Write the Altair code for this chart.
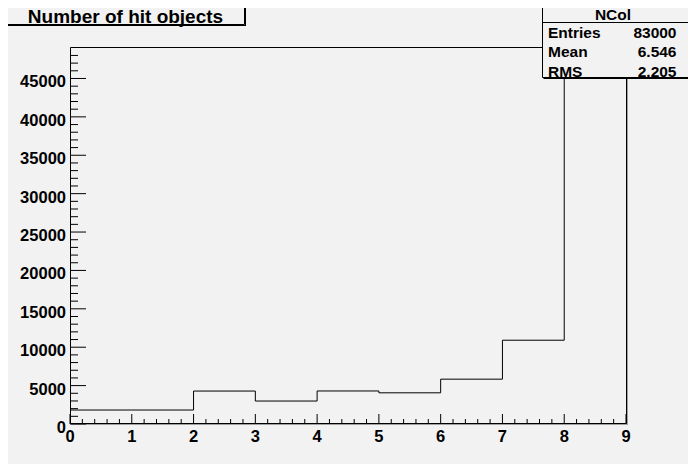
import altair as alt
import pandas as pd

# ---- data ----
bin_edges = [0, 1, 2, 3, 4, 5, 6, 7, 8, 9]
counts = [1820, 1820, 4290, 2990, 4300, 4060, 5840, 10910, 46800]
y_major = [0, 5000, 10000, 15000, 20000, 25000, 30000, 35000, 40000, 45000]
y_minor = [v for v in range(1000, 49000, 1000) if v % 5000 != 0]
x_major = [0, 1, 2, 3, 4, 5, 6, 7, 8, 9]
x_minor = [round(i * 0.2, 1) for i in range(1, 45) if i % 5 != 0]

title_text = "Number of hit objects"
stats_name = "NCol"
stats_labels = ["Entries", "Mean", "RMS"]
stats_values = ["83000", "6.546", "2.205"]

# ---- layout ----
W, H = 556, 377
BG = "#f2f2f2"
FONT = "Liberation Sans"

xs = alt.Scale(domain=[0, 9], nice=False, zero=False)
ys = alt.Scale(domain=[0, 49100], nice=False, zero=False)

hist_df = pd.DataFrame({"x": bin_edges, "y": counts + [counts[-1]]})
one = alt.Data(values=[{"k": 1}])

hist = alt.Chart(hist_df).mark_line(
    interpolate="step-after", color="black", strokeWidth=1
).encode(
    x=alt.X("x:Q", scale=xs, axis=None),
    y=alt.Y("y:Q", scale=ys, axis=None),
)

ylab = alt.Chart(pd.DataFrame({"y": y_major, "t": [str(v) for v in y_major]})).mark_text(
    font=FONT, fontWeight="bold", fontSize=16.5, color="black",
    align="right", baseline="middle", dy=4
).encode(y=alt.Y("y:Q", scale=ys, axis=None), x=alt.value(-4), text="t:N")

xlab = alt.Chart(pd.DataFrame({"x": x_major, "t": [str(v) for v in x_major]})).mark_text(
    font=FONT, fontWeight="bold", fontSize=16.5, color="black",
    align="center", baseline="alphabetic"
).encode(x=alt.X("x:Q", scale=xs, axis=None), y=alt.value(H + 17.5), text="t:N")

def yticks(vals, length):
    return alt.Chart(pd.DataFrame({"y": vals})).mark_rule(color="black", strokeWidth=1).encode(
        y=alt.Y("y:Q", scale=ys, axis=None), x=alt.value(0), x2=alt.value(length))

def xticks(vals, length):
    return alt.Chart(pd.DataFrame({"x": vals})).mark_rule(color="black", strokeWidth=1).encode(
        x=alt.X("x:Q", scale=xs, axis=None), y=alt.value(H), y2=alt.value(H - length))

def rect(x1, x2, y1, y2, fill=BG, stroke="black"):
    return alt.Chart(one).mark_rect(fill=fill, stroke=stroke, strokeWidth=1).encode(
        x=alt.value(x1), x2=alt.value(x2), y=alt.value(y1), y2=alt.value(y2))

def hline(x1, x2, y, color="black", w=1):
    return alt.Chart(one).mark_rule(color=color, strokeWidth=w).encode(
        x=alt.value(x1), x2=alt.value(x2), y=alt.value(y))

def vline(x, y1, y2, color="black", w=1):
    return alt.Chart(one).mark_rule(color=color, strokeWidth=w).encode(
        x=alt.value(x), y=alt.value(y1), y2=alt.value(y2))

def text(s, x, y, align="left", size=15.5):
    return alt.Chart(one).mark_text(
        font=FONT, fontWeight="bold", fontSize=size, color="black",
        align=align, baseline="alphabetic"
    ).encode(x=alt.value(x), y=alt.value(y), text=alt.value(s))

frame = alt.Chart(one).mark_rect(fillOpacity=0, stroke="black", strokeWidth=1).encode(
    x=alt.value(0.5), x2=alt.value(W + 0.5), y=alt.value(0.5), y2=alt.value(H - 0.5))
frame_shadow = [vline(W + 1.5, 1, H + 1, color="#a0a0a0"),
                hline(1, W + 2, H + 0.5, color="#a0a0a0")]

# title box
title_layers = [
    rect(-63.5, 174.5, -43.5, -22.5),
    vline(175.5, -43, -21, w=1),
    hline(-63, 176, -21.5, w=1),
    text(title_text, 55.5, -24, align="center", size=19),
]

# stats box
sx1, sx2, sy1, sy2 = 472.5, 621.5, -47.5, 30.5
stats_layers = [
    rect(sx1, sx2, sy1, sy2),
    vline(sx2 + 1, sy1, sy2 + 1.5, w=1),
    hline(sx1 + 1, sx2 + 1.5, sy2 + 1, w=1),
    hline(sx1, sx2, -24.5),
    text(stats_name, 543, -27, align="center"),
]
row_base = [-9.5, 9.5, 29.5]
for lab, val, yb in zip(stats_labels, stats_values, row_base):
    stats_layers.append(text(lab, 478, yb))
    stats_layers.append(text(val, 606.5, yb, align="right"))

chart = alt.layer(
    frame, *frame_shadow, hist,
    yticks(y_major, 16), yticks(y_minor, 8),
    xticks(x_major, 10), xticks(x_minor, 5),
    ylab, xlab,
    *title_layers, *stats_layers,
).properties(
    width=W, height=H,
    padding={"left": 62, "top": 39, "right": 62, "bottom": 40},
    autosize=alt.AutoSizeParams(type="none"),
    background=BG,
).configure_view(strokeWidth=0)

chart.save("out.html", embed_options={"renderer": "svg", "actions": False})
